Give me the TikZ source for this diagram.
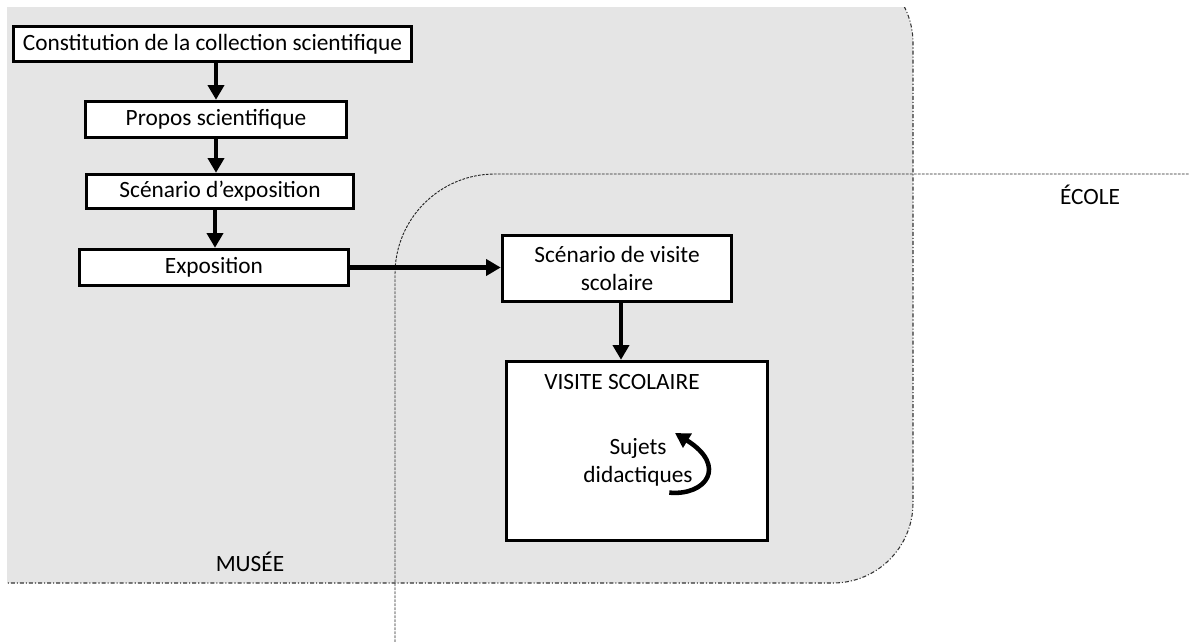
\documentclass[tikz,border=0pt]{standalone}
\usepackage{fontspec}
\setmainfont{Carlito}
\usetikzlibrary{arrows.meta}

\tikzset{
    etape/.style={draw, line width=2.6pt, fill=white, inner sep=0pt, align=center},
    fleche/.style={line width=3.4pt, -{Triangle[length=11pt, width=12pt]}},
    musee/.style={fill=black!10, draw=black!80, line width=0.8pt, dash pattern=on 3pt off 1.5pt on 0.8pt off 1.5pt},
    ecole/.style={draw=black!85, line width=0.7pt, dash pattern=on 2pt off 1pt}
}

\begin{document}
\begin{tikzpicture}[x=0.75pt, y=-0.75pt, font=\fontsize{17.5}{21}\selectfont]
            \useasboundingbox (0,0) rectangle (1189,642);
            \begin{scope}
                \clip (7,8) rectangle (1189,642);
                \filldraw[musee, rounded corners=60pt] (-100,-37) rectangle (913,583);
            \end{scope}
            \draw[ecole, rounded corners=75pt] (395,642) -- (395,174) -- (1189,174);
            \node (musee) at (250,562) {MUSÉE};
            \node (ecole) at (1090,195) {ÉCOLE};

            \node[etape, minimum width=298.5pt, minimum height=26.3pt] (collection) at (212.5,44) {Constitution de la collection scientifique};
            \node[etape, minimum width=195.75pt, minimum height=27pt] (propos) at (216,119.5) {Propos scientifique};
            \node[etape, minimum width=200pt, minimum height=25.5pt] (scenario) at (220,191.5) {Scénario d’exposition};
            \node[etape, minimum width=201.75pt, minimum height=27pt] (exposition) at (214,267.5) {Exposition};
            \node[etape, minimum width=171.75pt, minimum height=49.5pt] (scenvisite) at (617,268.5) {Scénario de visite\\scolaire};
            \node[etape, minimum width=195.75pt, minimum height=134.25pt] (visite) at (637,451) {};
            \node (visitelabel) at (622,382) {VISITE SCOLAIRE};
            \node[align=center] (sujets) at (638,462) {Sujets\\didactiques};

            \draw[fleche] (collection.south -| propos.north) -- (propos.north);
            \draw[fleche] (propos.south) -- (propos.south |- scenario.north);
            \draw[fleche] (scenario.south -| 215,0) -- (exposition.north -| 215,0);
            \draw[fleche] (exposition.east) -- (exposition.east -| scenvisite.west);
            \draw[fleche] (scenvisite.south -| 621,0) -- (visite.north -| 621,0);
            \draw[line width=3.4pt, -{Triangle[length=11pt, width=12pt]}] (sujets.south east) ++(-28,2) .. controls (706,496) and (728,466) .. (675,433);
\end{tikzpicture}
\end{document}
